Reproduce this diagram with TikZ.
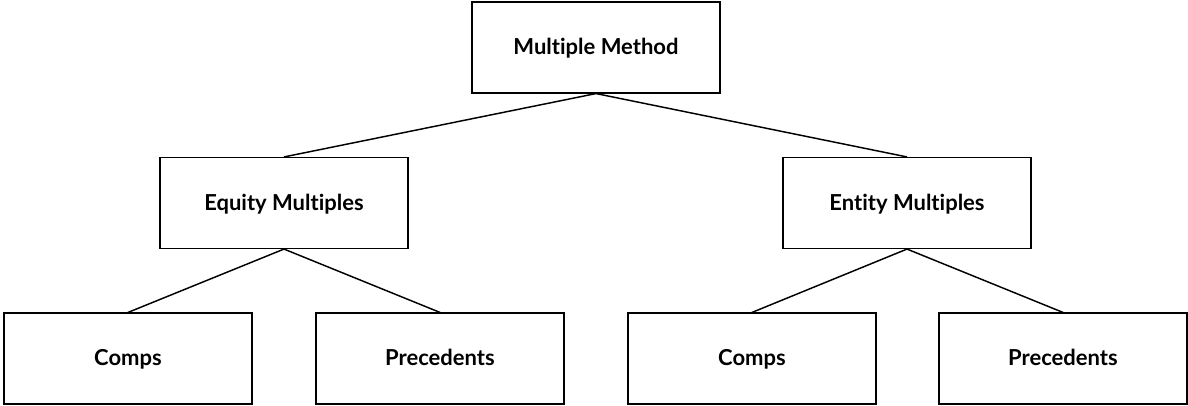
\documentclass[tikz,border=0pt]{standalone}
\usepackage{fontspec}
\setmainfont{Lato}[Ligatures=NoCommon]

\tikzset{
  box/.style={draw, line width=1.1pt, minimum width=186pt, minimum height=68pt, inner sep=0pt,
    text height=2.1ex, text depth=0ex, font=\bfseries\fontsize{16.5}{19}\selectfont},
  link/.style={line width=1.1pt}
}

\begin{document}
\begin{tikzpicture}[x=0.75pt,y=0.75pt,yscale=-1,xscale=1]
%set diagram frame
\useasboundingbox (0,0) rectangle (1188,406);

%Shape: Rectangle [top]
\node [box] (method) at (596,47.5) {Multiple Method};
%Shape: Rectangle [second row]
\node [box] (equity) at (284,203) {Equity Multiples};
\node [box] (entity) at (907,203) {Entity Multiples};
%Shape: Rectangle [bottom row]
\node [box] (compsA) at (128,358.5) {Comps};
\node [box] (precA) at (440,358.5) {Precedents};
\node [box] (compsB) at (752,358.5) {Comps};
\node [box] (precB) at (1063,358.5) {Precedents};

%Straight Lines
\draw [link] (method.south) -- (equity.north) ;
\draw [link] (method.south) -- (entity.north) ;
\draw [link] (equity.south) -- (compsA.north) ;
\draw [link] (equity.south) -- (precA.north) ;
\draw [link] (entity.south) -- (compsB.north) ;
\draw [link] (entity.south) -- (precB.north) ;

\end{tikzpicture}
\end{document}
